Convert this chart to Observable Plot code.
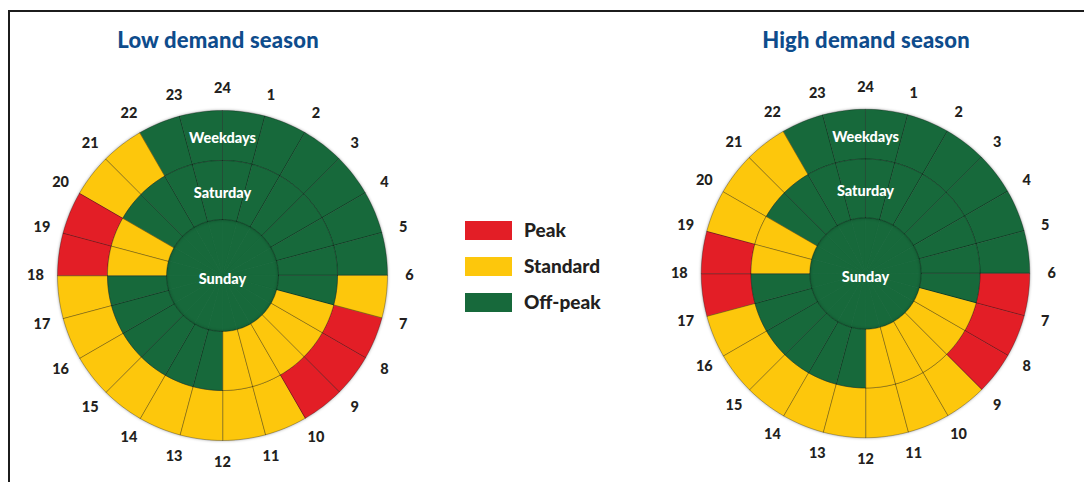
<!DOCTYPE html>
<html><head><meta charset="utf-8">
<script src="https://cdn.jsdelivr.net/npm/d3@7"></script>
<script src="https://cdn.jsdelivr.net/npm/@observablehq/plot@0.6"></script>
<style>
body{margin:0;width:1084px;height:482px;overflow:hidden;background:#fff;font-family:Lato,"Open Sans",sans-serif;position:relative}
#frame{position:absolute;left:8px;top:10px;width:1100px;height:500px;border-top:2px solid #1c1c1c;border-left:2px solid #1c1c1c}
.title{position:absolute;top:27px;width:400px;text-align:center;font-weight:900;font-size:22px;letter-spacing:0.2px;color:#0e4c8c;line-height:26px}
.chart{position:absolute}
</style>
</head><body>
<div id="frame"></div>
<div class="title" style="left:18px">Low demand season</div>
<div class="title" style="left:666px">High demand season</div>
<div id="low" class="chart" style="left:2px;top:60px"></div>
<div id="high" class="chart" style="left:646px;top:59px"></div>
<div id="legend" class="chart" style="left:465px;top:213px"></div>
<script>
// ---- data ----
const hourLabels = ["24","1","2","3","4","5","6","7","8","9","10","11","12","13","14","15","16","17","18","19","20","21","22","23"];
const periods = ["Peak","Standard","Off-peak"];
const periodColors = ["#e31e26","#fdc70c","#17693b"];
const ringNames = ["Weekdays","Saturday","Sunday"];
const O = "Off-peak", S = "Standard", P = "Peak";
const lowWeekdays  = [O,O,O,O,O,O,S,P,P,P,S,S,S,S,S,S,S,S,P,P,S,S,O,O];
const lowSaturday  = [O,O,O,O,O,O,O,S,S,S,S,S,O,O,O,O,O,O,S,S,O,O,O,O];
const lowSunday    = [O,O,O,O,O,O,O,O,O,O,O,O,O,O,O,O,O,O,O,O,O,O,O,O];
const highWeekdays = [O,O,O,O,O,O,P,P,P,S,S,S,S,S,S,S,S,P,P,S,S,S,O,O];
const highSaturday = [O,O,O,O,O,O,O,S,S,S,S,S,O,O,O,O,O,O,S,S,O,O,O,O];
const highSunday   = [O,O,O,O,O,O,O,O,O,O,O,O,O,O,O,O,O,O,O,O,O,O,O,O];

// ---- layout (not data) ----
const radii = {Weekdays:[115,165], Saturday:[56,115], Sunday:[0,56]};
const labelRadius = 187;
const W = 440, H = 430;

function polar(r, hourPos) {
  const a = hourPos / hourLabels.length * 2 * Math.PI;
  return {x: r * Math.sin(a), y: r * Math.cos(a)};
}

function buildCells(ringValues) {
  const rows = [];
  ringNames.forEach((ring, k) => {
    const [r0, r1] = radii[ring];
    ringValues[k].forEach((period, i) => {
      const id = ring + "-" + i, steps = 8, pts = [];
      for (let s = 0; s <= steps; s++) pts.push(polar(r1, i + s / steps));
      if (r0 > 0) for (let s = steps; s >= 0; s--) pts.push(polar(r0, i + s / steps));
      else pts.push({x: 0, y: 0});
      pts.forEach(p => rows.push({id, ring, period, x: p.x, y: p.y}));
    });
  });
  return rows;
}

function clock(ringValues) {
  const cells = buildCells(ringValues);
  const hours = hourLabels.map((label, i) => ({label, ...polar(labelRadius, i)}));
  const ringText = ringNames.map(ring => {
    const [r0, r1] = radii[ring];
    const r = ring === "Sunday" ? -4 : (r0 + r1) / 2 - 3;
    return {ring, x: 0, y: r};
  });
  const svg = Plot.plot({
    width: W, height: H, margin: 0,
    style: {fontFamily: "Lato, 'Open Sans', sans-serif", background: "transparent"},
    x: {domain: [-W/2, W/2], axis: null},
    y: {domain: [-H/2, H/2], axis: null},
    color: {domain: periods, range: periodColors},
    marks: [
      Plot.line(cells.filter(d => d.ring === "Sunday"), {x: "x", y: "y", z: "id", fill: "period", stroke: "period", strokeWidth: 0.8, curve: "linear-closed"}),
      Plot.line(cells.filter(d => d.ring !== "Sunday"), {x: "x", y: "y", z: "id", fill: "period", stroke: "#000", strokeOpacity: 0.28, strokeWidth: 1, curve: "linear-closed"}),
      Plot.text(hours, {x: "x", y: "y", text: "label", fontSize: 14.5, fontWeight: 900, fill: "#231f20"}),
      Plot.text(ringText, {x: "x", y: "y", text: "ring", fontSize: 14.5, fontWeight: 900, fill: "#ffffff"})
    ]
  });
  d3.select(svg).selectAll('g[aria-label="line"]').style("filter", "drop-shadow(0px 0px 1.5px rgba(0,0,0,0.35))");
  return svg;
}

document.getElementById("low").append(clock([lowWeekdays, lowSaturday, lowSunday]));
document.getElementById("high").append(clock([highWeekdays, highSaturday, highSunday]));

const legend = Plot.plot({
  width: 170, height: 108, margin: 0, marginRight: 123,
  style: {fontFamily: "Lato, 'Open Sans', sans-serif", background: "transparent"},
  x: {domain: ["swatch"], axis: null, padding: 0},
  y: {domain: periods, axis: null, paddingInner: 0.47, paddingOuter: 0.235},
  color: {domain: periods, range: periodColors},
  marks: [
    Plot.cell(periods, {x: () => "swatch", y: d => d, fill: d => d}),
    Plot.text(periods, {x: () => "swatch", y: d => d, text: d => d, dx: 35, textAnchor: "start", fontSize: 19, fontWeight: 900, fill: "#231f20"})
  ]
});
document.getElementById("legend").append(legend);
</script>
</body></html>
